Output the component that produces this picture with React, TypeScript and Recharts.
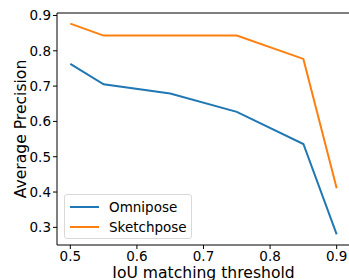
import { LineChart, Line, XAxis, YAxis, ReferenceLine } from 'recharts';

const thresholds = [0.5, 0.55, 0.65, 0.75, 0.85, 0.9];
const omnipose = [0.763, 0.705, 0.679, 0.627, 0.536, 0.28];
const sketchpose = [0.877, 0.843, 0.843, 0.843, 0.777, 0.411];

const xTicks = [0.5, 0.6, 0.7, 0.8, 0.9];
const yTicks = [0.3, 0.4, 0.5, 0.6, 0.7, 0.8, 0.9];

const BLUE = '#1f77b4';
const ORANGE = '#ff7f0e';
const FONT = 'DejaVu Sans, sans-serif';
const Y_MAX = 0.907;

const data = thresholds.map((t, i) => ({
  t,
  Omnipose: omnipose[i],
  Sketchpose: sketchpose[i],
}));

function LegendBox() {
  const row = (color: string, name: string) => (
    <div style={{ display: 'flex', alignItems: 'center', height: 20 }}>
      <div style={{ width: 29, height: 2, background: color, marginLeft: 5, marginRight: 10 }} />
      <span>{name}</span>
    </div>
  );
  return (
    <div
      style={{
        position: 'absolute',
        left: 64,
        top: 194,
        border: '1px solid #d9d9d9',
        borderRadius: 3,
        background: 'rgba(255,255,255,0.8)',
        fontFamily: FONT,
        fontSize: 13.5,
        color: '#000',
        padding: '2px 0',
        boxSizing: 'border-box',
        width: 128,
        height: 45,
      }}
    >
      {row(BLUE, 'Omnipose')}
      {row(ORANGE, 'Sketchpose')}
    </div>
  );
}

export default function App() {
  return (
    <div style={{ position: 'absolute', left: 0, top: 0, width: 349, height: 280, overflow: 'hidden', background: '#fff' }}>
      <LineChart width={349} height={280} data={data} margin={{ top: 13, right: -1, bottom: 0, left: 0 }}>
        <XAxis
          dataKey="t"
          type="number"
          domain={[0.48, 0.92]}
          ticks={xTicks}
          allowDataOverflow
          tickFormatter={(v: number) => v.toFixed(1)}
          height={35}
          tickSize={4}
          tickMargin={2}
          stroke="#000"
          tick={{ fill: '#000', fontSize: 13.5, fontFamily: FONT }}
          label={() => (
            <text x={203.5} y={277.5} textAnchor="middle" fontSize={15.6} fontFamily={FONT} fill="#000">
              IoU matching threshold
            </text>
          )}
        />
        <YAxis
          type="number"
          domain={[0.25, Y_MAX]}
          ticks={yTicks}
          allowDataOverflow
          tickFormatter={(v: number) => v.toFixed(1)}
          width={57}
          tickSize={4}
          tickMargin={2}
          stroke="#000"
          tick={{ fill: '#000', fontSize: 13.5, fontFamily: FONT }}
          label={() => (
            <text
              x={21}
              y={129}
              transform="rotate(-90 21 129)"
              textAnchor="middle"
              dominantBaseline="central"
              fontSize={15.6}
              fontFamily={FONT}
              fill="#000"
            >
              Average Precision
            </text>
          )}
        />
        <ReferenceLine y={Y_MAX} stroke="#000" strokeWidth={1} ifOverflow="visible" />
        <Line dataKey="Omnipose" stroke={BLUE} strokeWidth={2} dot={false} isAnimationActive={false} />
        <Line dataKey="Sketchpose" stroke={ORANGE} strokeWidth={2} dot={false} isAnimationActive={false} />
      </LineChart>
      <LegendBox />
    </div>
  );
}
